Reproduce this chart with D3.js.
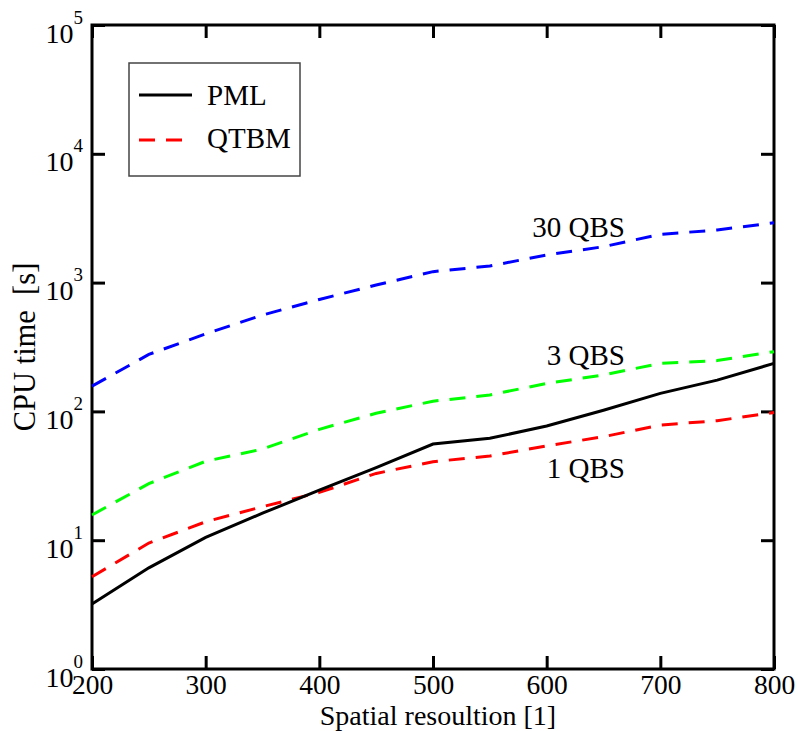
<!DOCTYPE html>
<html>
<head>
<meta charset="utf-8">
<script src="https://cdn.jsdelivr.net/npm/d3@7"></script>
<style>
  html, body { margin: 0; padding: 0; background: #fff; }
  svg { display: block; font-family: "Liberation Serif", "Times New Roman", serif; }
</style>
</head>
<body>
<svg id="chart" width="798" height="731"></svg>
<script>
// ---- data ----
const resolution = [200, 250, 300, 350, 400, 450, 500, 550, 600, 650, 700, 750, 800];
const pml     = [3.2, 6.1, 10.5, 16.2, 24.5, 36.6, 55.8, 61.8, 77, 102, 138, 175, 236];
const qtbm1   = [5.2, 9.5, 13.9, 18.2, 23.5, 33, 40.7, 45, 54, 63.6, 78.4, 84.7, 98];
const qtbm3   = [15.7, 27.5, 41, 51, 72.6, 96.7, 120, 134, 165, 192, 236, 248, 291];
const qtbm30  = [157, 277, 400, 560, 740, 958, 1216, 1346, 1638, 1900, 2371, 2560, 2918];
const xTicks = [200, 300, 400, 500, 600, 700, 800];
const yTicks = [1, 10, 100, 1000, 10000, 100000];
const yExponents = ["0", "1", "2", "3", "4", "5"];
const seriesLabels = ["1 QBS", "3 QBS", "30 QBS"];
const legendLabels = ["PML", "QTBM"];

// ---- layout ----
const svg = d3.select("#chart");
const X0 = 92, X1 = 774, Y0 = 25, Y1 = 669;
const x = d3.scaleLinear().domain([200, 800]).range([X0, X1]);
const y = d3.scaleLog().domain([1, 100000]).range([Y1, Y0]);
const TICK = 13;
const FS = 28;

// axes (ticks inward)
const gB = svg.append("g").attr("transform", `translate(0,${Y1})`)
  .call(d3.axisBottom(x).tickValues(xTicks).tickSizeInner(-TICK).tickSizeOuter(0).tickPadding(5).tickFormat(d3.format("d")));
const gT = svg.append("g").attr("transform", `translate(0,${Y0})`)
  .call(d3.axisTop(x).tickValues(xTicks).tickSizeInner(-TICK).tickSizeOuter(0).tickFormat(""));
const gL = svg.append("g").attr("transform", `translate(${X0},0)`)
  .call(d3.axisLeft(y).tickValues(yTicks).tickSizeInner(-TICK).tickSizeOuter(0).tickPadding(9).tickFormat(() => ""));
const gR = svg.append("g").attr("transform", `translate(${X1},0)`)
  .call(d3.axisRight(y).tickValues(yTicks).tickSizeInner(-TICK).tickSizeOuter(0).tickFormat(""));

[gB, gT, gL, gR].forEach(g => {
  g.select(".domain").remove();
  g.selectAll(".tick line").attr("stroke", "#000").attr("stroke-width", 3);
  g.selectAll(".tick text").attr("fill", "#000").style("font-size", FS + "px")
    .style("font-family", "'Liberation Serif', 'Times New Roman', serif");
});
gB.selectAll(".tick text").style("font-size", "27.5px");

// y tick labels with superscripts
gL.selectAll(".tick text").each(function(d, i) {
  const t = d3.select(this);
  t.text(null).attr("dy", null).attr("y", 0);
  t.append("tspan").attr("dy", 17).text("10");
  t.append("tspan").attr("dy", -19).style("font-size", "19px").text(yExponents[i]);
});

// frame
svg.append("rect").attr("x", X0).attr("y", Y0).attr("width", X1 - X0).attr("height", Y1 - Y0)
  .attr("fill", "none").attr("stroke", "#000").attr("stroke-width", 3);

// lines
const line = d3.line().x((d, i) => x(resolution[i])).y(d => y(d));
const series = [
  { values: qtbm30, color: "#0000ff", dash: "16,11" },
  { values: qtbm3,  color: "#00ff00", dash: "16,11" },
  { values: qtbm1,  color: "#ff0000", dash: "16,11" },
  { values: pml,    color: "#000000", dash: null }
];
series.forEach(s => {
  svg.append("path").datum(s.values).attr("d", line)
    .attr("fill", "none").attr("stroke", s.color).attr("stroke-width", 3)
    .attr("stroke-dasharray", s.dash);
});

// series labels
const labelPos = [[625, 478], [625, 365], [625, 237]];
seriesLabels.forEach((t, i) => {
  svg.append("text").attr("x", labelPos[i][0]).attr("y", labelPos[i][1])
    .attr("text-anchor", "end").style("font-size", "29px").text(t);
});

// legend
const lg = svg.append("g");
lg.append("rect").attr("x", 129).attr("y", 63).attr("width", 171).attr("height", 113)
  .attr("fill", "#fff").attr("stroke", "#444").attr("stroke-width", 1.5);
lg.append("line").attr("x1", 139).attr("x2", 192).attr("y1", 95).attr("y2", 95)
  .attr("stroke", "#000").attr("stroke-width", 3);
lg.append("line").attr("x1", 139).attr("x2", 183).attr("y1", 140).attr("y2", 140)
  .attr("stroke", "#ff0000").attr("stroke-width", 3).attr("stroke-dasharray", "16,11");
lg.append("text").attr("x", 207).attr("y", 105).style("font-size", "29px").text(legendLabels[0]);
lg.append("text").attr("x", 207).attr("y", 148).style("font-size", "29px").text(legendLabels[1]);

// axis titles
svg.append("text").attr("x", 438).attr("y", 724.8).attr("text-anchor", "middle")
  .style("font-size", "28px").text("Spatial resoultion [1]");
svg.append("text").attr("transform", "translate(35,347) rotate(-90)").attr("text-anchor", "middle")
  .style("font-size", "30.5px").style("white-space", "pre").text("CPU time  [s]");
</script>
</body>
</html>
